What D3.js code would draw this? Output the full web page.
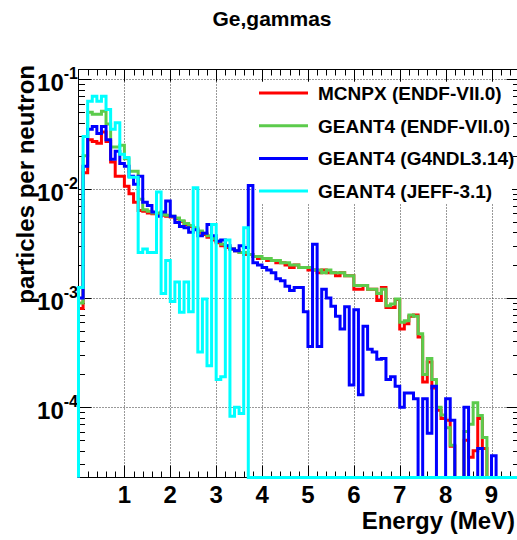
<!DOCTYPE html>
<meta charset="utf-8">

<style>
body { margin: 0; background: #fff; }
text { font-family: "Liberation Sans", Arial, Helvetica, sans-serif; font-weight: bold; fill: #000; }
</style>

<body>
<script src="https://cdn.jsdelivr.net/npm/d3@7"></script>
<script>
// histogram contents, one value per 0.1 MeV bin starting at 0 MeV (0 = empty bin)
var binWidth = 0.1;

var mcnpx = [
  8e-4, 0.014, 0.028, 0.027, 0.026, 0.033, 0.027, 0.0175, 0.013, 0.013,
  0.0105, 0.009, 0.0075, 0.0063, 0.0062, 0.0060, 0.0059, 0.0058, 0.0057, 0.0056,
  0.0055, 0.0053, 0.0050, 0.0047, 0.0045, 0.0043, 0.0040, 0.0038, 0.0036, 0.0034,
  0.0032, 0.0030, 0.0029, 0.0028, 0.0027, 0.0026, 0.0025, 0.0025, 0.0024, 0.0023,
  0.0023, 0.0022, 0.0022, 0.0021, 0.0021, 0.0020, 0.0019, 0.0020, 0.0019, 0.0019,
  0.0018, 0.0018, 0.0017, 0.0018, 0.0017, 0.0017, 0.0016, 0.0017, 0.0016, 0.0016,
  0.0012, 0.0012, 0.0013, 0.0012, 0.0012, 0.00095, 0.00125, 0.00082, 0.00082, 0.00097,
  0.00052, 0.00058, 0.00068, 0.00070, 0.00044, 0.00017, 0.00026, 0.00015, 0.000094, 0.000079,
  0.000076, 0.000044, 0, 0, 0.00005, 0.000035, 0.00004, 0.000079, 0.000042, 0,
  0, 0, 0, 0, 0, 0
];

var g4Endf = [
  9e-4, 0.020, 0.050, 0.048, 0.048, 0.051, 0.039, 0.024, 0.024, 0.025,
  0.0188, 0.0144, 0.0144, 0.008, 0.0064, 0.0062, 0.0060, 0.0060, 0.0058, 0.0057,
  0.0056, 0.0054, 0.0051, 0.0048, 0.0046, 0.0044, 0.0041, 0.0039, 0.0037, 0.0035,
  0.0033, 0.0031, 0.0030, 0.0028, 0.0027, 0.0026, 0.0026, 0.0025, 0.0024, 0.0024,
  0.0023, 0.0023, 0.0022, 0.0022, 0.0021, 0.0021, 0.0020, 0.0020, 0.0019, 0.0019,
  0.0019, 0.0018, 0.0018, 0.0017, 0.0018, 0.0017, 0.0017, 0.0017, 0.0016, 0.0016,
  0.0013, 0.0013, 0.0013, 0.0012, 0.0012, 0.0011, 0.0012, 0.00085, 0.00088, 0.00098,
  0.00060, 0.00062, 0.00070, 0.00068, 0.00047, 0.00020, 0.00028, 0.00018, 0.00010, 0.000085,
  0.000065, 0.000045, 0, 0, 0.00006, 0.00007, 0.00011, 0.000084, 0.000053, 0,
  0, 0, 0, 0, 0, 0
];

var g4Ndl = [
  1e-3, 0.016, 0.035, 0.037, 0.032, 0.037, 0.028, 0.0186, 0.022, 0.017,
  0.016, 0.013, 0.011, 0.013, 0.0075, 0.0070, 0.0061, 0.0056, 0.0061, 0.0077,
  0.0056, 0.0049, 0.0045, 0.0044, 0.0040, 0.0042, 0.0037, 0.0039, 0.0047, 0.0037,
  0.0033, 0.0034, 0.0030, 0.0028, 0.0027, 0.0030, 0.0029, 0.0107, 0.0021, 0.0020,
  0.0019, 0.0018, 0.0017, 0.0015, 0.00144, 0.00128, 0.00117, 0.00125, 0.00125, 0.00075,
  0.00036, 0.0031, 0.00036, 0.0012, 0.0010, 0.00084, 0.00068, 0.00052, 0.00083, 0.00016,
  0.00078, 0.00013, 0.00055, 0.00034, 0.00032, 0.000275, 0.00028, 0.00018, 0.00019, 0.000156,
  0.0001, 0.000135, 0.000135, 0.00012, 0, 0.00012, 0.000058, 0.000156, 0, 0,
  0.00012, 0.000076, 0, 0, 0.0001, 0, 0, 0.000042, 0, 0,
  0.000036, 0, 0, 0, 0, 0
];

var g4Jeff = [
  1.25e-3, 0.030, 0.063, 0.070, 0.063, 0.070, 0.053, 0.035, 0.040, 0.0206,
  0.0193, 0.0127, 0.0127, 0.0026, 0.0028, 0.0026, 0.0026, 0.0093, 0.0011, 0.0022,
  0.00093, 0.0014, 0.00074, 0.0014, 0.00075, 0.0102, 0.00032, 0.00098, 0.00024, 0.0047,
  0.00018, 0.00019, 0.0034, 0.000083, 0.0001, 0.000088, 0.0044, 0, 0, 0,
  0, 0, 0, 0, 0, 0, 0, 0, 0, 0,
  0, 0, 0, 0, 0, 0, 0, 0, 0, 0,
  0, 0, 0, 0, 0, 0, 0, 0, 0, 0,
  0, 0, 0, 0, 0, 0, 0, 0, 0, 0,
  0, 0, 0, 0, 0, 0, 0, 0, 0, 0,
  0, 0, 0, 0, 0, 0
];

var seriesNames = ["MCNPX (ENDF-VII.0)", "GEANT4 (ENDF-VII.0)", "GEANT4 (G4NDL3.14)", "GEANT4 (JEFF-3.1)"],
    seriesColors = ["#ff0000", "#5ccb4c", "#0000ff", "#00ffff"],
    seriesData = [mcnpx, g4Endf, g4Ndl, g4Jeff];

var xTicks = [1, 2, 3, 4, 5, 6, 7, 8, 9],
    yTicks = [1e-1, 1e-2, 1e-3, 1e-4],
    yExponents = ["-1", "-2", "-3", "-4"];

var width = 517,
    height = 540,
    fLeft = 78.5,
    fRight = 519.5,
    fTop = 69.5,
    fBottom = 477.5;

var x = d3.scaleLinear().domain([0, 9.61]).range([fLeft, fRight]),
    y = d3.scaleLog().domain([2.28e-5, 0.123]).range([fBottom, fTop]),
    yMin = y.domain()[0];

var svg = d3.select("body").append("svg")
    .attr("width", width)
    .attr("height", height);

function px(v) { return Math.round(x(v)) + 0.5; }
function py(v) { return Math.round(y(v)) + 0.5; }

// grid
svg.append("g").selectAll("line")
    .data(xTicks)
    .enter().append("line")
    .attr("x1", px).attr("x2", px)
    .attr("y1", fTop).attr("y2", fBottom)
    .attr("stroke", "#333").attr("stroke-dasharray", "1,2");

svg.append("g").selectAll("line")
    .data(yTicks)
    .enter().append("line")
    .attr("y1", py).attr("y2", py)
    .attr("x1", fLeft).attr("x2", fRight)
    .attr("stroke", "#333").attr("stroke-dasharray", "1,2");

// frame
svg.append("rect")
    .attr("x", fLeft).attr("y", fTop)
    .attr("width", fRight - fLeft).attr("height", fBottom - fTop)
    .attr("fill", "none").attr("stroke", "#000");

// x ticks (inside, top and bottom)
var xMinor = d3.range(1, 49).map(function(k) { return k * 0.2; })
    .filter(function(v) { return Math.abs(v - Math.round(v)) > 1e-6 && x(v) < width; });

var ticks = svg.append("g").attr("stroke", "#000");
[[xTicks, 12], [xMinor, 6]].forEach(function(t) {
  ticks.selectAll(null).data(t[0]).enter().append("line")
      .attr("x1", px).attr("x2", px)
      .attr("y1", fBottom).attr("y2", fBottom - t[1]);
  ticks.selectAll(null).data(t[0]).enter().append("line")
      .attr("x1", px).attr("x2", px)
      .attr("y1", fTop).attr("y2", fTop + t[1]);
});

// y ticks (log, inside, left and right)
var yMinor = [];
[-5, -4, -3, -2, -1].forEach(function(e) {
  d3.range(2, 10).forEach(function(m) {
    var v = m * Math.pow(10, e);
    if (v > yMin && v < y.domain()[1]) yMinor.push(v);
  });
});
[[yTicks, 13], [yMinor, 6.5]].forEach(function(t) {
  ticks.selectAll(null).data(t[0]).enter().append("line")
      .attr("y1", py).attr("y2", py)
      .attr("x1", fLeft).attr("x2", fLeft + t[1]);
  ticks.selectAll(null).data(t[0]).enter().append("line")
      .attr("y1", py).attr("y2", py)
      .attr("x1", fRight).attr("x2", fRight - t[1]);
});

// tick labels
svg.append("g").selectAll("text")
    .data(xTicks)
    .enter().append("text")
    .attr("x", function(d) { return x(d); })
    .attr("y", 503)
    .attr("text-anchor", "middle")
    .style("font-size", "24px")
    .text(function(d) { return d; });

var yl = svg.append("g").selectAll("text")
    .data(yTicks)
    .enter().append("text")
    .attr("x", 78)
    .attr("y", function(d) { return y(d) + 12; })
    .attr("text-anchor", "end")
    .style("font-size", "24px");
yl.append("tspan").text("10");
yl.append("tspan")
    .attr("dy", -12)
    .style("font-size", "16px")
    .text(function(d, i) { return yExponents[i]; });

// titles
svg.append("text")
    .attr("x", 272).attr("y", 26)
    .attr("text-anchor", "middle")
    .style("font-size", "21px")
    .text("Ge,gammas");

svg.append("text")
    .attr("x", 515).attr("y", 529)
    .attr("text-anchor", "end")
    .style("font-size", "24px")
    .text("Energy (MeV)");

svg.append("text")
    .attr("transform", "translate(34,65) rotate(-90)")
    .attr("text-anchor", "end")
    .style("font-size", "24px")
    .text("particles per neutron");

// histograms
function steps(vals) {
  var pts = [[0, 0]];
  vals.forEach(function(v, i) {
    pts.push([i * binWidth, v]);
    pts.push([(i + 1) * binWidth, v]);
  });
  pts.push([vals.length * binWidth, 0]);
  return pts;
}

var line = d3.line()
    .x(function(d) { return x(d[0]); })
    .y(function(d) { return d[1] > yMin ? y(d[1]) : fBottom; });

svg.append("g").selectAll("path")
    .data(seriesData)
    .enter().append("path")
    .attr("d", function(d) { return line(steps(d)); })
    .attr("fill", "none")
    .attr("stroke", function(d, i) { return seriesColors[i]; })
    .attr("stroke-width", 3)
    .attr("stroke-linejoin", "miter");

// legend
var legend = svg.append("g");
legend.append("rect")
    .attr("x", 256).attr("y", 82)
    .attr("width", 256).attr("height", 122)
    .attr("fill", "#fff");

var rows = legend.selectAll("g")
    .data(seriesNames)
    .enter().append("g")
    .attr("transform", function(d, i) { return "translate(0," + (100 + i * 32.7) + ")"; });
rows.append("line")
    .attr("x1", 259).attr("x2", 308)
    .attr("y1", -7).attr("y2", -7)
    .attr("stroke", function(d, i) { return seriesColors[i]; })
    .attr("stroke-width", 3);
rows.append("text")
    .attr("x", 318)
    .style("font-size", "19px")
    .text(function(d) { return d; });
</script>
